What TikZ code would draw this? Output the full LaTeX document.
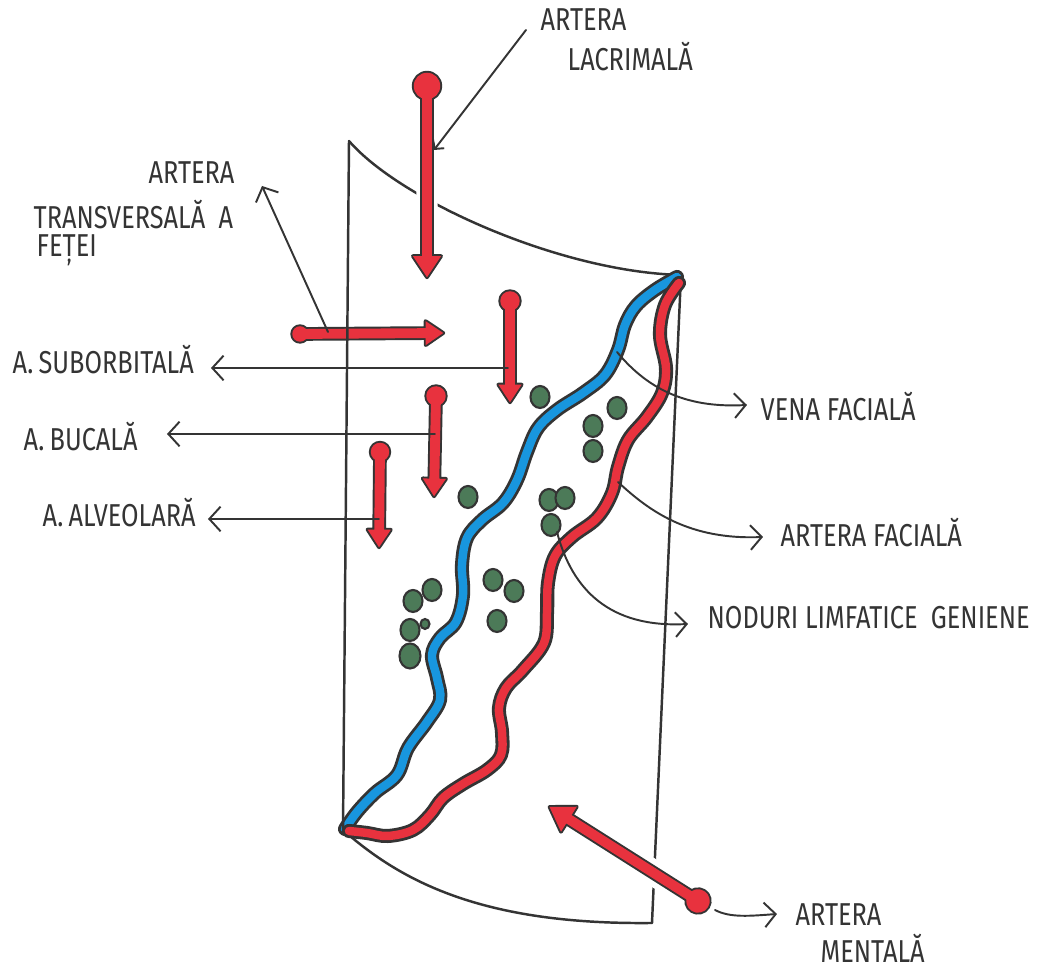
\documentclass[tikz,border=0pt]{standalone}
\usepackage{fontspec}
\newfontfamily\handfont{Fira Sans}[FakeStretch=0.8]
\usetikzlibrary{arrows.meta,calc,shapes.geometric}

\definecolor{ink}{RGB}{52,52,52}
\definecolor{vred}{RGB}{232,50,62}
\definecolor{vblue}{RGB}{24,150,222}
\definecolor{ngreen}{RGB}{76,122,88}

\tikzset{
  labeltext/.style={font=\handfont\fontsize{9}{11}\selectfont, text=ink, anchor=west, inner sep=0pt},
  leader/.style={draw=ink, line width=0.55pt, line cap=round, -{Straight Barb[length=3.2pt,width=7pt]}},
  smallleader/.style={draw=ink, line width=0.55pt, line cap=round, -{Straight Barb[length=1.8pt,width=4pt]}},
  ball/.style={circle, inner sep=0pt, outer sep=0pt},
  lymph/.style={ellipse, draw=ink, fill=ngreen, line width=0.6pt, inner sep=0pt, minimum width=0.19cm, minimum height=0.22cm},
  wall/.style={draw=ink, line width=0.7pt, line cap=round},
}

% a wavy vessel: dark rim with a coloured core
\newcommand\vesselband[2]{%
  \draw[ink, line width=4.0pt, line cap=round, line join=round] plot[smooth, tension=0.6] coordinates {#2};
  \draw[#1, line width=2.4pt, line cap=round, line join=round] plot[smooth, tension=0.6] coordinates {#2};}

% red arterial arrow: #1 halo width, #2 ball node, #3 tip, #4 head half width, #5 head length
\newcommand\redvessel[5]{%
  \pgfpointdiff{\pgfpointanchor{#2}{center}}{\pgfpointanchor{#3}{center}}%
  \pgfgetlastxy{\vdx}{\vdy}%
  \pgfmathsetmacro\vang{atan2(\vdy,\vdx)}%
  \pgfmathsetmacro\vlen{veclen(\vdx,\vdy)}%
  \pgfpointdiff{\pgfpointanchor{#2}{center}}{\pgfpointanchor{#2}{east}}%
  \pgfgetlastxy{\vrx}{\vry}%
  \pgfmathsetmacro\vrad{\vrx-0.5}%
  \def\vball{(0,0) circle[radius=\vrad pt]}%
  \def\vbody{(0,-1.4pt) -- ({\vlen pt-#5},-1.4pt) -- ({\vlen pt-#5},-#4) -- ({\vlen pt-0.5pt},0) -- ({\vlen pt-#5},#4) -- ({\vlen pt-#5},1.4pt) -- (0,1.4pt) -- cycle}%
  \begin{scope}[shift={(#2.center)}, rotate=\vang, line join=round]
    \ifdim#1>0pt
      \draw[white, line width=#1] \vball;
      \draw[white, line width=#1] \vbody;
    \fi
    \draw[ink, line width=1.1pt] \vball;
    \draw[ink, line width=1.1pt] \vbody;
    \fill[vred] \vball;
    \fill[vred] \vbody;
  \end{scope}}

\begin{document}
\begin{tikzpicture}[x=0.01cm,y=-0.01cm]
\fill[white] (0,0) rectangle (1050,968);
\useasboundingbox (0,0) rectangle (1050,968);

% corners of the cheek panel
\coordinate (tl) at (349,141);
\coordinate (tr) at (681,275);
\coordinate (bl) at (343,830);
\coordinate (br) at (652,923);

% top, right and bottom edges
\draw[wall] (tl) .. controls (400,200) and (560,272) .. (tr);
\draw[wall] (tr) -- (br);
\draw[wall] (bl) .. controls (400,880) and (480,925) .. (br);

% facial vein
\vesselband{vblue}{(677,277) (655,290) (636,306) (625,325) (618,350) (605,375) (583,393) (557,410) (538,428) (527,452) (517,480) (503,503) (482,520) (467,538) (462,565) (463,595) (456,622) (440,638) (432,655) (437,678) (440,700) (427,722) (408,748) (397,775) (375,793) (357,812) (345,829)}

% facial artery
\vesselband{vred}{(679,283) (665,305) (660,335) (666,368) (662,393) (647,417) (628,440) (618,467) (612,493) (597,518) (572,537) (555,556) (548,583) (547,613) (544,643) (523,670) (506,688) (499,708) (502,732) (501,755) (487,770) (463,784) (443,798) (430,815) (413,830) (388,836) (367,833) (349,831)}

% buccal lymph nodes
\node[lymph] (n1) at (540,397) {};
\node[lymph] (n2) at (617,408) {};
\node[lymph] (n3) at (593,426) {};
\node[lymph] (n4) at (593,451) {};
\node[lymph] (n5) at (468,497) {};
\node[lymph] (n6) at (549,500) {};
\node[lymph] (n7) at (565,498) {};
\node[lymph] (n8) at (551,525) {};
\node[lymph] (n9) at (493,580) {};
\node[lymph] (n10) at (514,591) {};
\node[lymph] (n11) at (497,621) {};
\node[lymph] (n12) at (432,590) {};
\node[lymph] (n13) at (413,601) {};
\node[lymph] (n14) at (410,630) {};
\node[lymph, minimum width=0.09cm, minimum height=0.1cm] (n15) at (425,624) {};
\node[lymph, minimum width=0.21cm, minimum height=0.25cm] (n16) at (410,656) {};

% arterial arrows: balls and tips
\node[ball, minimum size=0.30cm] (b1) at (427,86) {};
\coordinate (t1) at (427,279);
\node[ball, minimum size=0.19cm] (b2) at (300,334) {};
\coordinate (t2) at (445,333);
\node[ball, minimum size=0.23cm] (b3) at (510,301) {};
\coordinate (t3) at (510,404);
\node[ball, minimum size=0.23cm] (b4) at (436,396) {};
\coordinate (t4) at (434,498);
\node[ball, minimum size=0.22cm] (b5) at (380,452) {};
\coordinate (t5) at (379,549);
\node[ball, minimum size=0.27cm] (b6) at (698,901) {};
\coordinate (t6) at (548,806);

\redvessel{3.2pt}{b1}{t1}{4.0pt}{6.5pt}
\redvessel{0pt}{b2}{t2}{3.4pt}{5.5pt}
\redvessel{0pt}{b3}{t3}{3.3pt}{5.5pt}
\redvessel{0pt}{b4}{t4}{3.3pt}{5.5pt}
\redvessel{0pt}{b5}{t5}{3.3pt}{5.5pt}
\redvessel{4.5pt}{b6}{t6}{4.2pt}{7pt}

% left edge, drawn over the transverse artery
\draw[wall] (tl) -- (bl);

% labels
\node[labeltext] (lacA) at (540,20) {ARTERA};
\node[labeltext] (lacB) at (567,57) {LACRIMALĂ};
\node[labeltext] (trA) at (148,173) {ARTERA};
\node[labeltext] (trB) at (33,215) {TRANSVERSALĂ\ \ A};
\node[labeltext] (trC) at (36,250) {FEȚEI};
\node[labeltext] (sub) at (12,360) {A.\,SUBORBITALĂ};
\node[labeltext] (buc) at (23,437) {A.\,BUCALĂ};
\node[labeltext] (alv) at (42,513) {A.\,ALVEOLARĂ};
\node[labeltext] (ven) at (760,407) {VENA FACIALĂ};
\node[labeltext] (aft) at (780,533) {ARTERA FACIALĂ};
\node[labeltext] (nod) at (707,618) {NODURI LIMFATICE\ \ GENIENE};
\node[labeltext] (menA) at (795,915) {ARTERA};
\node[labeltext] (menB) at (820,948) {MENTALĂ};

% leader lines
\coordinate (lacS) at (526,30);   \coordinate (lacT) at (434,150);
\coordinate (trS) at (328,332);   \coordinate (trT) at (262,186);
\coordinate (subS) at (508,368);  \coordinate (subT) at (211,368);
\coordinate (bucS) at (435,434);  \coordinate (bucT) at (167,434);
\coordinate (alvS) at (379,519);  \coordinate (alvT) at (208,519);
\coordinate (venS) at (617,352);  \coordinate (venT) at (747,405);
\coordinate (aftS) at (618,482);  \coordinate (aftT) at (763,537);
\coordinate (nodS) at (557,532);  \coordinate (nodT) at (688,624);
\coordinate (menS) at (715,910);  \coordinate (menT) at (777,914);

\draw[smallleader] (lacS) -- (lacT);
\draw[leader] (trS) -- (trT);
\draw[leader] (subS) -- (subT);
\draw[leader] (bucS) -- (bucT);
\draw[leader] (alvS) -- (alvT);
\draw[leader] (venS) .. controls (650,392) and (690,408) .. (venT);
\draw[leader] (aftS) .. controls (650,512) and (690,540) .. (aftT);
\draw[leader] (nodS) .. controls (572,590) and (610,628) .. (nodT);
\draw[leader] (menS) .. controls (730,918) and (750,916) .. (menT);
\end{tikzpicture}
\end{document}
